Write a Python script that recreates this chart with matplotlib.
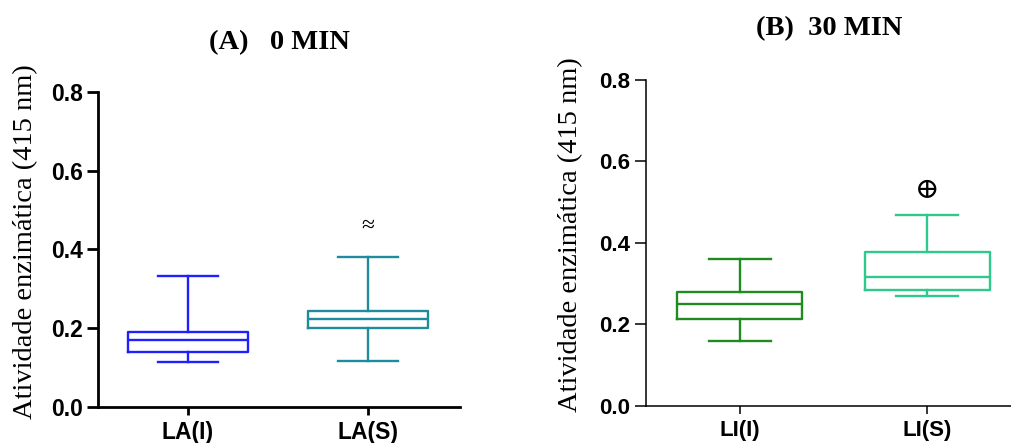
import matplotlib
matplotlib.use("Agg")
import matplotlib.pyplot as plt

# five-number summaries read per group
labels_a = ["LA(I)", "LA(S)"]
whislo_a = [0.114, 0.117]
q1_a = [0.140, 0.201]
med_a = [0.171, 0.224]
q3_a = [0.190, 0.245]
whishi_a = [0.332, 0.381]
colors_a = ["#1f1fff", "#1f8b9c"]

labels_b = ["LI(I)", "LI(S)"]
whislo_b = [0.159, 0.270]
q1_b = [0.213, 0.285]
med_b = [0.250, 0.315]
q3_b = [0.280, 0.377]
whishi_b = [0.361, 0.468]
colors_b = ["#1e8c1e", "#2ec98c"]

# significance marks over the second group
mark_a = ("\u2248", 0.458, 17)
mark_b = ("\u2295", 0.528, 21)

serif = ["Liberation Serif", "DejaVu Serif"]
sans = ["Liberation Sans", "DejaVu Sans"]


def make_stats(labels, lo, q1, med, q3, hi):
    return [dict(label=l, whislo=a, q1=b, med=c, q3=d, whishi=e, fliers=[])
            for l, a, b, c, d, e in zip(labels, lo, q1, med, q3, hi)]


def draw_panel(ax, stats, colors, title, title_y, label_x, mark, spine_w, xmax, tick_size):
    bp = ax.bxp(stats, positions=[1, 2], widths=0.667, capwidths=0.33,
                showfliers=False, patch_artist=False)
    for i, c in enumerate(colors):
        for key in ("boxes", "medians"):
            bp[key][i].set_color(c)
            bp[key][i].set_linewidth(1.7)
        for key in ("whiskers", "caps"):
            for art in bp[key][2 * i:2 * i + 2]:
                art.set_color(c)
                art.set_linewidth(1.7)
    ax.set_xlim(0.5, xmax)
    ax.set_ylim(0, 0.8)
    ax.set_yticks([0.0, 0.2, 0.4, 0.6, 0.8])
    ax.set_yticklabels(["0.0", "0.2", "0.4", "0.6", "0.8"])
    for s in ("top", "right"):
        ax.spines[s].set_visible(False)
    for s in ("left", "bottom"):
        ax.spines[s].set_linewidth(spine_w)
    ax.tick_params(axis="y", width=spine_w, length=8, pad=3)
    ax.tick_params(axis="x", width=spine_w, length=6, pad=4)
    for t in ax.get_yticklabels() + ax.get_xticklabels():
        t.set_family(sans)
        t.set_fontweight("bold")
        t.set_fontsize(tick_size)
    ax.set_ylabel("Atividade enzimática (415 nm)", family=serif, fontsize=20.5)
    ax.yaxis.set_label_coords(label_x, 0.525)
    ax.set_title(title, family=serif, fontweight="bold", fontsize=20.5,
                 y=title_y, va="center", pad=0)
    ax.text(2, mark[1], mark[0], family=serif + ["DejaVu Sans"], fontsize=mark[2],
            ha="center", va="center")


fig = plt.figure(figsize=(10.12, 4.43), dpi=100)
ax_a = fig.add_axes([0.0968, 0.0813, 0.3577, 0.711])
ax_b = fig.add_axes([0.638, 0.0842, 0.362, 0.735])

# titles placed in axes fraction: centres at y=43 px and y=28 px
draw_panel(ax_a, make_stats(labels_a, whislo_a, q1_a, med_a, q3_a, whishi_a),
           colors_a, "(A)   0 MIN", (407 - 43) / 315, -0.166, mark_a, 2.0, 2.51, 16.5)
draw_panel(ax_b, make_stats(labels_b, whislo_b, q1_b, med_b, q3_b, whishi_b),
           colors_b, "(B)  30 MIN", (405.7 - 28) / 325.7, -0.171, mark_b, 1.1, 2.45, 16)

fig.savefig("out.png", dpi=100)
